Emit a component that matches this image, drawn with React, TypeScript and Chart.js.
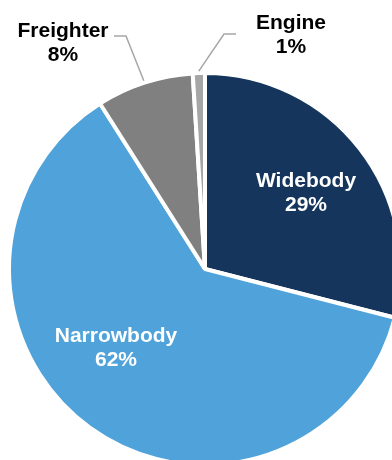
import React, { useEffect, useRef } from "react";
import { Chart, registerables } from "chart.js";

Chart.register(...registerables);

const categories = ["Widebody", "Narrowbody", "Freighter", "Engine"];
const shares = [29, 62, 8, 1];
const percentLabels = ["29%", "62%", "8%", "1%"];
const sliceColors = ["#15355C", "#50A3DA", "#808080", "#A6A6A6"];

// label layout (pixels relative to pie centre)
const labelStyle = [
  { dx: 101, dy: -82, color: "#FFFFFF", leader: null },
  { dx: -89, dy: 73, color: "#FFFFFF", leader: null },
  { dx: -142, dy: -232, color: "#000000", leader: { elbow: [-79, -233], end: [-91, -233] } },
  { dx: 86, dy: -240, color: "#000000", leader: { elbow: [19, -235], end: [31, -235] } },
];

const labelPlugin = {
  id: "pieLabels",
  afterDatasetsDraw(chart: any) {
    const ctx = chart.ctx;
    const meta = chart.getDatasetMeta(0);
    ctx.save();
    meta.data.forEach((arc: any, i: number) => {
      const { x, y, startAngle, endAngle, outerRadius } = arc.getProps(
        ["x", "y", "startAngle", "endAngle", "outerRadius"],
        true
      );
      const st = labelStyle[i];
      if (st.leader) {
        const mid = (startAngle + endAngle) / 2;
        const sx = x + Math.cos(mid) * (outerRadius + 2);
        const sy = y + Math.sin(mid) * (outerRadius + 2);
        ctx.beginPath();
        ctx.strokeStyle = "#A6A6A6";
        ctx.lineWidth = 1.5;
        ctx.moveTo(sx, sy);
        ctx.lineTo(x + st.leader.elbow[0], y + st.leader.elbow[1]);
        ctx.lineTo(x + st.leader.end[0], y + st.leader.end[1]);
        ctx.stroke();
      }
      ctx.fillStyle = st.color;
      ctx.font = "bold 21px 'Liberation Sans', Arial, sans-serif";
      ctx.textAlign = "center";
      ctx.textBaseline = "alphabetic";
      ctx.fillText(categories[i], x + st.dx, y + st.dy);
      ctx.fillText(percentLabels[i], x + st.dx, y + st.dy + 24);
    });
    ctx.restore();
  },
};

export default function App() {
  const canvasRef = useRef<HTMLCanvasElement | null>(null);

  useEffect(() => {
    if (!canvasRef.current) return;
    const chart = new Chart(canvasRef.current, {
      type: "pie",
      data: {
        labels: categories,
        datasets: [
          {
            data: shares,
            backgroundColor: sliceColors,
            borderColor: "#FFFFFF",
            borderWidth: 4,
          },
        ],
      },
      options: {
        animation: false,
        responsive: false,
        devicePixelRatio: 1,
        radius: 196,
        layout: { padding: { left: 9, top: 74, right: 9, bottom: 76 } },
        plugins: {
          legend: { display: false },
          tooltip: { enabled: false },
        },
      },
      plugins: [labelPlugin],
    } as any);
    return () => chart.destroy();
  }, []);

  return (
    <div
      style={{
        position: "fixed",
        left: 0,
        top: 0,
        width: 392,
        height: 460,
        overflow: "hidden",
        background: "#FFFFFF",
      }}
    >
      <canvas ref={canvasRef} width={410} height={540} style={{ display: "block" }} />
    </div>
  );
}
